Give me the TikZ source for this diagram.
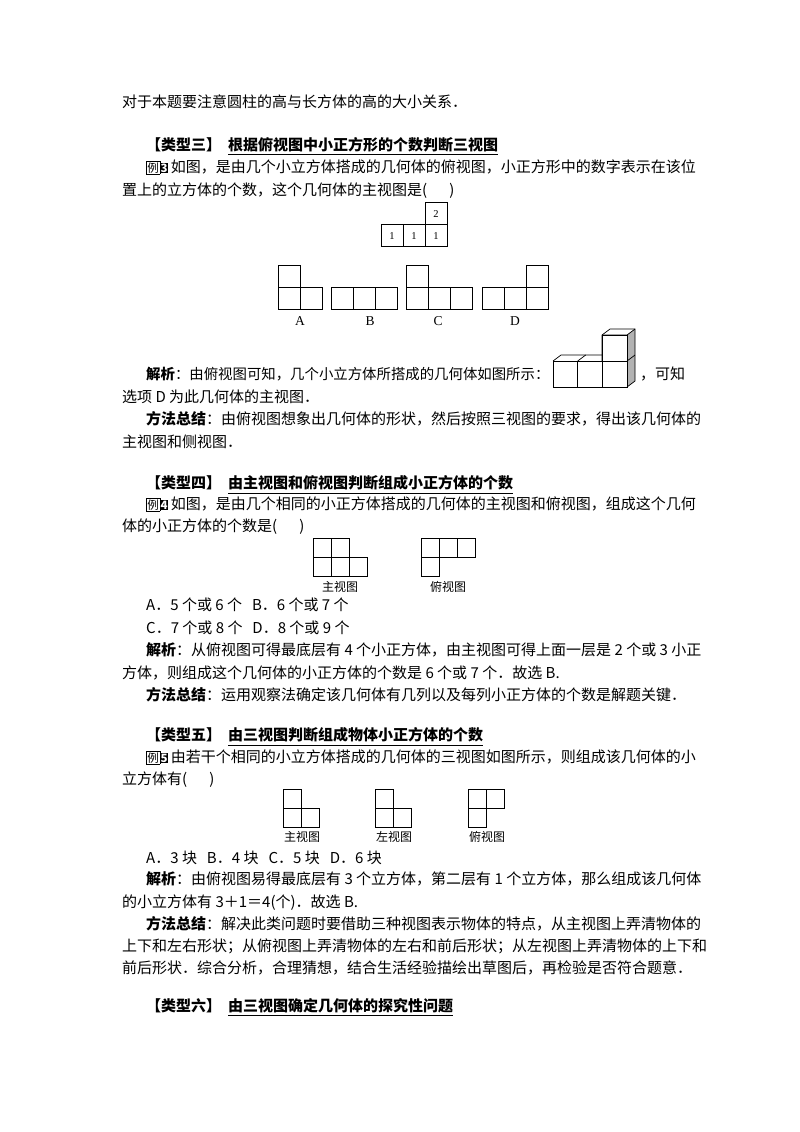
\documentclass[tikz,border=0pt]{standalone}
\usepackage{fontspec}
\setmainfont{Liberation Serif}
\newfontfamily\cjk{Noto Sans CJK SC}
\newcommand{\lizi}[1]{{\setlength{\fboxsep}{0.8pt}\fbox{\fontsize{11.5}{12}\selectfont 例}\hspace{-0.4pt}\colorbox{black}{\textcolor{white}{\fontsize{11.5}{12}\selectfont\bfseries #1}}}}
\begin{document}
\begin{tikzpicture}[x=1pt,y=-1pt,
  txt/.style={anchor=base west,inner sep=0pt,font=\cjk\fontsize{15}{16}\selectfont},
  hd/.style={txt,font=\cjk\bfseries\fontsize{15}{16}\selectfont},
  lab/.style={anchor=base,inner sep=0pt,font=\cjk\fontsize{12}{13}\selectfont},
  opt/.style={anchor=base,inner sep=0pt,font=\fontsize{13.5}{14}\selectfont},
  sq/.style={draw,line width=0.8pt},
  ul/.style={line width=0.7pt}]
\useasboundingbox (0,0) rectangle (800,1132);
\fill[white] (0,0) rectangle (800,1132);

\node[txt] (l1) at (122,107) {对于本题要注意圆柱的高与长方体的高的大小关系．};

% type 3
\node[hd] (h3) at (146,150) {【类型三】};
\node[hd] (t3) at (228,150) {根据俯视图中小正方形的个数判断三视图};
\draw[ul] ([yshift=-3pt]t3.south west) -- ([yshift=-3pt]t3.south east);
\node[txt] (e3a) at (146,172) {\lizi{3}\,如图，是由几个小立方体搭成的几何体的俯视图，小正方形中的数字表示在该位};
\node[txt] (e3b) at (122,195) {置上的立方体的个数，这个几何体的主视图是(\hspace{22pt})};
% top view
\foreach \x/\n in {381/1,403/1,425/1}{\draw[sq] (\x,224) rectangle +(22,22); \node[opt,font=\fontsize{10.5}{11}\selectfont] at (\x+11,239) {\n};}
\draw[sq] (425,202) rectangle (447,224); \node[opt,font=\fontsize{10.5}{11}\selectfont] at (436,217) {2};
% options
\draw[sq] (278,265) rectangle +(22,22);
\foreach \x in {278,300}{\draw[sq] (\x,287) rectangle +(22,22);}
\foreach \x in {331,353,375}{\draw[sq] (\x,287) rectangle +(22,22);}
\draw[sq] (406,265) rectangle +(22,22);
\foreach \x in {406,428,450}{\draw[sq] (\x,287) rectangle +(22,22);}
\draw[sq] (526,265) rectangle +(22,22);
\foreach \x in {482,504,526}{\draw[sq] (\x,287) rectangle +(22,22);}
\node[opt] (oa) at (300,325) {A};
\node[opt] (ob) at (370,325) {B};
\node[opt] (oc) at (438,325) {C};
\node[opt] (od) at (515,325) {D};
% 3d figure
\begin{scope}[line width=0.7pt]
\fill[gray!60] (627,361) -- (635,355) -- (635,381) -- (627,387) -- cycle;
\fill[gray!60] (627,335) -- (635,329) -- (635,355) -- (627,361) -- cycle;
\draw (553,361) -- (561,355) -- (602,355);
\draw (577.7,361) -- (585.7,355);
\draw (602,361) -- (602,335) -- (610,329) -- (635,329) -- (635,381) -- (627,387);
\draw (602,335) -- (627,335) -- (635,329);
\draw (627,361) -- (635,355);
\foreach \x in {553,577.7,602.3}{\draw (\x,361) rectangle +(24.7,26);}
\draw (602,335) rectangle (627,361);
\end{scope}
\node[txt,font=\cjk\fontsize{14.4}{15}\selectfont] (j3a) at (146,379) {\textbf{解析}：由俯视图可知，几个小立方体所搭成的几何体如图所示：};
\node[txt] (j3c) at (640,379) {，可知};
\node[txt] (j3b) at (122,402) {选项 D 为此几何体的主视图．};
\node[txt] (m3a) at (146,424) {\textbf{方法总结}：由俯视图想象出几何体的形状，然后按照三视图的要求，得出该几何体的};
\node[txt] (m3b) at (122,447) {主视图和侧视图．};

% type 4
\node[hd] (h4) at (146,488) {【类型四】};
\node[hd] (t4) at (228,488) {由主视图和俯视图判断组成小正方体的个数};
\draw[ul] ([yshift=-3pt]t4.south west) -- ([yshift=-3pt]t4.south east);
\node[txt] (e4a) at (146,509) {\lizi{4}\,如图，是由几个相同的小正方体搭成的几何体的主视图和俯视图，组成这个几何};
\node[txt] (e4b) at (122,531) {体的小正方体的个数是(\hspace{22pt})};
\foreach \x in {313,331}{\draw[sq] (\x,538) rectangle +(18,19);}
\foreach \x in {313,331,349}{\draw[sq] (\x,557) rectangle +(18,19);}
\foreach \x in {421,439,457}{\draw[sq] (\x,538) rectangle +(18,19);}
\draw[sq] (421,557) rectangle +(18,19);
\node[lab] (v4a) at (340,591) {主视图};
\node[lab] (v4b) at (448,591) {俯视图};
\node[txt] (o4a) at (146,610) {A．5 个或 6 个\hspace{10pt}B．6 个或 7 个};
\node[txt] (o4b) at (146,633) {C．7 个或 8 个\hspace{10pt}D．8 个或 9 个};
\node[txt] (j4a) at (146,655) {\textbf{解析}：从俯视图可得最底层有 4 个小正方体，由主视图可得上面一层是 2 个或 3 小正};
\node[txt] (j4b) at (122,678) {方体，则组成这个几何体的小正方体的个数是 6 个或 7 个．故选 B.};
\node[txt] (m4) at (146,700) {\textbf{方法总结}：运用观察法确定该几何体有几列以及每列小正方体的个数是解题关键．};

% type 5
\node[hd] (h5) at (146,740) {【类型五】};
\node[hd] (t5) at (228,740) {由三视图判断组成物体小正方体的个数};
\draw[ul] ([yshift=-3pt]t5.south west) -- ([yshift=-3pt]t5.south east);
\node[txt] (e5a) at (146,762) {\lizi{5}\,由若干个相同的小立方体搭成的几何体的三视图如图所示，则组成该几何体的小};
\node[txt] (e5b) at (122,784) {立方体有(\hspace{22pt})};
\draw[sq] (283,789) rectangle +(18,19);
\foreach \x in {283,301}{\draw[sq] (\x,808) rectangle +(18,19);}
\draw[sq] (375,789) rectangle +(18,19);
\foreach \x in {375,393}{\draw[sq] (\x,808) rectangle +(18,19);}
\foreach \x in {468,486}{\draw[sq] (\x,789) rectangle +(18,19);}
\draw[sq] (468,808) rectangle +(18,19);
\node[lab] (v5a) at (302,841) {主视图};
\node[lab] (v5b) at (394,841) {左视图};
\node[lab] (v5c) at (487,841) {俯视图};
\node[txt] (o5) at (146,863) {A．3 块\hspace{10pt}B．4 块\hspace{10pt}C．5 块\hspace{10pt}D．6 块};
\node[txt] (j5a) at (146,884) {\textbf{解析}：由俯视图易得最底层有 3 个立方体，第二层有 1 个立方体，那么组成该几何体};
\node[txt] (j5b) at (122,907) {的小立方体有 3＋1＝4(个)．故选 B.};
\node[txt] (m5a) at (146,929) {\textbf{方法总结}：解决此类问题时要借助三种视图表示物体的特点，从主视图上弄清物体的};
\node[txt] (m5b) at (122,951) {上下和左右形状；从俯视图上弄清物体的左右和前后形状；从左视图上弄清物体的上下和};
\node[txt] (m5c) at (122,973) {前后形状．综合分析，合理猜想，结合生活经验描绘出草图后，再检验是否符合题意．};

% type 6
\node[hd] (h6) at (146,1011) {【类型六】};
\node[hd] (t6) at (228,1011) {由三视图确定几何体的探究性问题};
\draw[ul] ([yshift=-3pt]t6.south west) -- ([yshift=-3pt]t6.south east);
\end{tikzpicture}
\end{document}
